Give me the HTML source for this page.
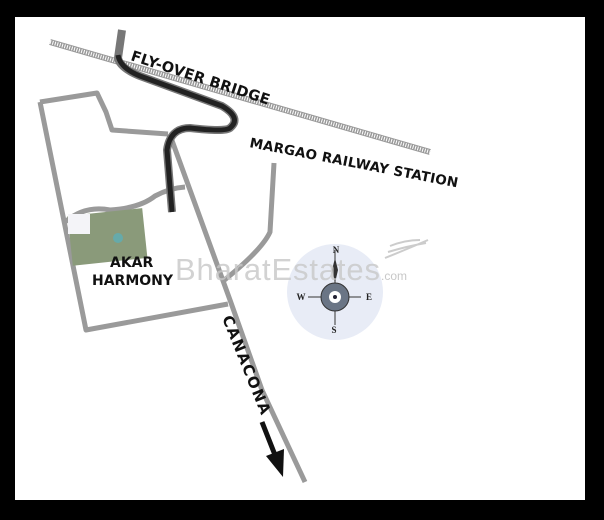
<!DOCTYPE html>
<html><head><style>
html,body{margin:0;padding:0;background:#000;}
svg{display:block;}
</style></head><body>
<svg width="604" height="520" viewBox="0 0 604 520" xmlns="http://www.w3.org/2000/svg" font-family="DejaVu Sans, sans-serif">
<rect width="604" height="520" fill="#000"/>
<rect x="15" y="17" width="570" height="483" fill="#fff"/>
<!-- railway -->
<line x1="50" y1="42" x2="430" y2="152" stroke="#999" stroke-width="6"/>
<line x1="50" y1="42" x2="430" y2="152" stroke="#fff" stroke-width="4" stroke-dasharray="1 1.5"/>
<!-- roads -->
<g fill="none" stroke="#9a9a9a" stroke-width="5" stroke-linejoin="round">
<polyline points="40,102 97,93 106,112 112,130 168,134"/>
<polyline points="40,102 86,330 228,304"/>
<polyline points="170,135 230,300 262,390 305,482"/>
<path d="M274,163 L270,232 Q262,250 222,282"/>
<path d="M65,222 Q85,205 110,210 Q140,208 155,196 Q170,188 185,187"/>
</g>
<!-- flyover -->
<path d="M122,30 L118,58 Q120,68 140,76 L222,106 Q242,118 230,128 Q225,132 190,128 Q170,128 167,150 L172,212" fill="none" stroke="#777" stroke-width="8" stroke-linejoin="round"/>
<path d="M118,55 Q120,68 140,76 L222,106 Q242,118 230,128 Q225,132 190,128 Q170,128 167,150 L172,212" fill="none" stroke="#222" stroke-width="5" stroke-linejoin="round"/>
<!-- building -->
<rect x="70" y="212" width="75" height="50" fill="#8a9a7a" transform="rotate(-6 107 237)"/>
<rect x="68" y="214" width="22" height="20" fill="#f4f4f8"/>
<circle cx="118" cy="238" r="5" fill="#6aa"/>
<!-- compass -->
<circle cx="335" cy="292" r="48" fill="#e8ecf6"/>
<line x1="308" y1="297" x2="361" y2="297" stroke="#333" stroke-width="1"/>
<line x1="335" y1="250" x2="335" y2="325" stroke="#333" stroke-width="1"/>
<circle cx="335" cy="297" r="14" fill="#6a7585" stroke="#333"/>
<circle cx="335" cy="297" r="6" fill="#fff"/>
<circle cx="335" cy="297" r="2" fill="#223"/>
<path d="M335,258 L338,270 L335,283 L332,270Z" fill="#333"/>
<g font-family="Liberation Serif, serif" font-weight="bold" font-size="9" fill="#222" text-anchor="middle">
<text x="336" y="253">N</text><text x="301" y="300">W</text><text x="369" y="300">E</text><text x="334" y="333">S</text></g>
<!-- watermark -->
<text x="175" y="280" font-family="Liberation Sans, sans-serif" font-size="31" fill="#c8c8c8" opacity="0.8" textLength="205">BharatEstates</text>
<text x="381" y="280" font-family="Liberation Sans, sans-serif" font-size="12" fill="#c8c8c8">.com</text>
<path d="M385,258 Q405,250 428,240 M388,252 Q408,246 426,243 M390,246 Q405,240 420,240" stroke="#ccc" stroke-width="2" fill="none"/>
<!-- arrow -->
<line x1="262" y1="422" x2="275" y2="455" stroke="#111" stroke-width="5"/>
<polygon points="266,456 284,449 283,477" fill="#111"/>
<!-- labels -->
<g font-weight="bold" fill="#111">
<text transform="translate(130,60) rotate(18)" font-size="14.5" textLength="145">FLY-OVER BRIDGE</text>
<text transform="translate(249,147) rotate(11)" font-size="13.5" textLength="212">MARGAO RAILWAY STATION</text>
<text transform="translate(222,318) rotate(68)" font-size="15" textLength="105">CANACONA</text>
<text x="110" y="267" font-size="14">AKAR</text>
<text x="92" y="285" font-size="14">HARMONY</text>
</g>
</svg>
</body></html>
